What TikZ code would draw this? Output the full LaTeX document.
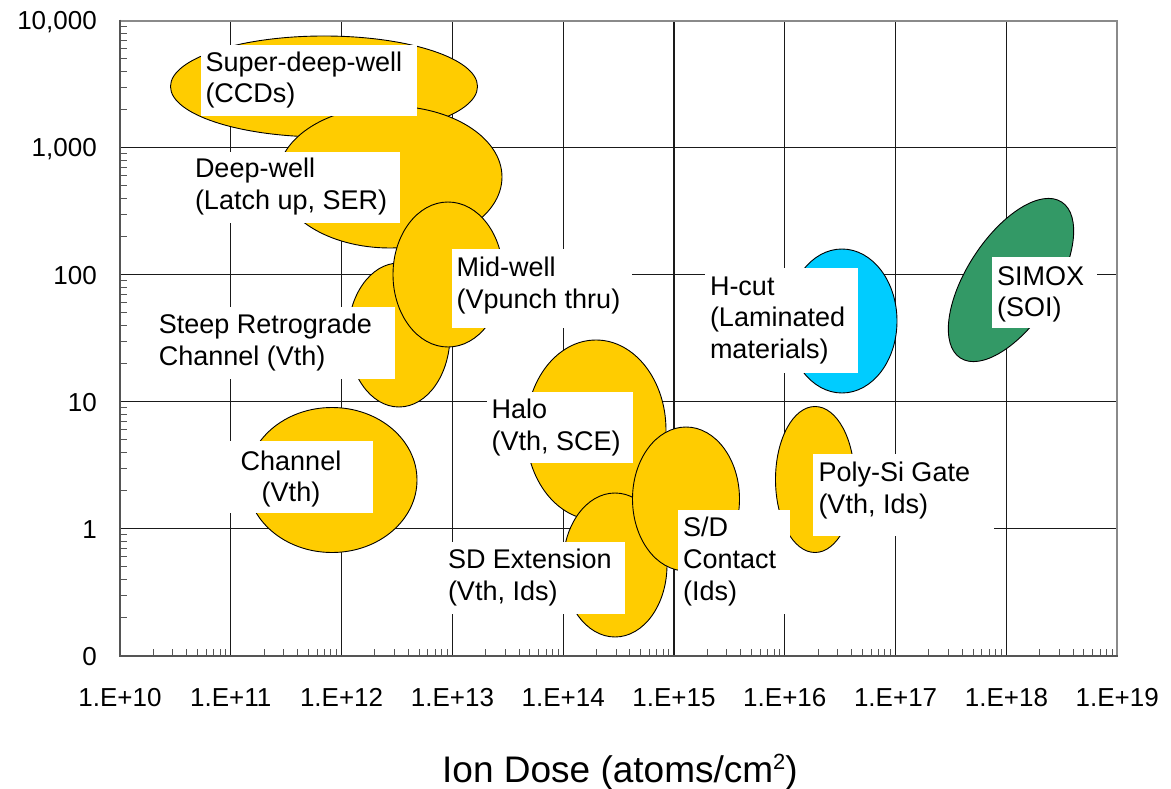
\documentclass[tikz,border=0pt]{standalone}
\usepackage{fontspec}
\setmainfont{Liberation Sans}
\definecolor{gold}{HTML}{FFCC00}
\definecolor{skyc}{HTML}{00CCFF}
\definecolor{simoxg}{HTML}{339966}
\definecolor{gridc}{HTML}{1A1A1A}
\definecolor{framec}{HTML}{8A8A8A}
\definecolor{axisc}{HTML}{555555}
\begin{document}
\begin{tikzpicture}[x=1pt,y=-1pt,
  gridline/.style={draw=gridc, line width=1.1pt},
  blob/.style={draw=black, line width=0.9pt},
  lblbox/.style={fill=white},
  lbl/.style={font=\fontsize{27}{31.6}\selectfont, inner sep=0pt, align=left, anchor=base west},
  ticklbl/.style={font=\fontsize{26}{30}\selectfont, inner sep=0pt},
  tickmark/.style={draw=axisc, line width=1pt}
  ]
\useasboundingbox (0,0) rectangle (1171,789);
\fill[white] (0,0) rectangle (1171,789);

% grid
\foreach \i in {1,2,3,4,6,7,8} \draw[gridline] ({120+110.8*\i},20.7) -- ({120+110.8*\i},655.7);
\draw[gridline] (674,20.7) -- (674,430);
\draw[gridline] (674,568) -- (674,655.7);
\foreach \j in {1,...,4} \draw[gridline] (120,{20.7+127*\j}) -- (1117.2,{20.7+127*\j});

% ellipses
\filldraw[blob, fill=gold] (324,86.5) ellipse [x radius=153.5, y radius=50.5];
\filldraw[blob, fill=gold] (390,177) ellipse [x radius=112, y radius=71];
\filldraw[blob, fill=gold] (399,335) ellipse [x radius=51, y radius=72];
\filldraw[blob, fill=gold] (448,274.5) ellipse [x radius=55, y radius=72.5];
\filldraw[blob, fill=gold] (332,480) ellipse [x radius=85, y radius=72.5];
\filldraw[blob, fill=gold] (596,430) ellipse [x radius=70, y radius=90];
\filldraw[blob, fill=gold] (615,565) ellipse [x radius=52, y radius=72];
\filldraw[blob, fill=gold] (686,499) ellipse [x radius=53.5, y radius=72];
\filldraw[blob, fill=skyc] (842,321) ellipse [x radius=55, y radius=72];
\filldraw[blob, fill=gold] (815,479.5) ellipse [x radius=39.5, y radius=73];
\filldraw[blob, fill=simoxg, rotate around={57:(1011,280)}] (1011,280) ellipse [x radius=93, y radius=44];

% label boxes
\fill[lblbox] (201,45) rectangle (416.7,115.7);
\fill[lblbox] (194,151.7) rectangle (400,222.7);
\fill[lblbox] (154,306.7) rectangle (395,379.3);
\fill[lblbox] (451.7,249) rectangle (632,328.3);
\fill[lblbox] (209,440.5) rectangle (372.7,513.3);
\fill[lblbox] (486.7,391.7) rectangle (632.7,463.3);
\fill[lblbox] (443,541.7) rectangle (625,614);
\fill[lblbox] (678,510) rectangle (790,614);
\fill[lblbox] (705,268.3) rectangle (857.7,373.3);
\fill[lblbox] (991.7,257.3) rectangle (1096.7,328.3);
\fill[lblbox] (813.3,454) rectangle (994,535.7);

% labels (anchor = baseline of the last line)
\node[lbl] (sdw) at (205.3,103) {Super-deep-well\\(CCDs)};
\node[lbl] (dw) at (194.8,209.5) {Deep-well\\(Latch up, SER)};
\node[lbl] (steep) at (158.6,365) {Steep Retrograde\\Channel (Vth)};
\node[lbl] (mid) at (456.5,308.5) {Mid-well\\(Vpunch thru)};
\node[lbl, align=center, anchor=base] (chan) at (291,501.7) {Channel\\(Vth)};
\node[lbl] (halo) at (491.5,450.5) {Halo\\(Vth, SCE)};
\node[lbl] (sdext) at (447.8,600) {SD Extension\\(Vth, Ids)};
\node[lbl] (sdc) at (683,600) {S/D\\Contact\\(Ids)};
\node[lbl] (hcut) at (709.8,358.3) {H-cut\\(Laminated\\materials)};
\node[lbl] (simox) at (997,316.7) {SIMOX\\(SOI)};
\node[lbl] (poly) at (818.3,513.3) {Poly-Si Gate\\(Vth, Ids)};

% minor ticks
\foreach \i in {0,...,8} \foreach \k in {2,...,9}
  \draw[tickmark] ({120+110.8*(\i+log10(\k))},655.7) -- ++(0,-7);
\foreach \j in {0,...,4} \foreach \k in {2,...,9}
  \draw[tickmark] (120,{20.7+127*(\j+1-log10(\k))}) -- ++(7,0);

% frame and axes
\draw[framec, line width=2.2pt] (119,20.7) -- (1117.2,20.7) -- (1117.2,656.7);
\draw[axisc, line width=2pt] (120,19.7) -- (120,655.7) -- (1118.2,655.7);

% y labels
\foreach \t [count=\n from 0] in {{10,000},{1,000},100,10,1,0}
  \node[ticklbl, anchor=base east] (ylab\n) at (97,{20.7+127*\n+9.3}) {\t};
% x labels
\foreach \n in {10,...,19}
  \node[ticklbl, anchor=base] (xlab\n) at ({120+110.8*(\n-10)},706) {1.E+\n};

\node[font=\fontsize{37}{40}\selectfont, anchor=base, inner sep=0pt] (title) at (620,782) {Ion Dose (atoms/cm\raisebox{13pt}{\fontsize{22}{22}\selectfont 2})};
\end{tikzpicture}
\end{document}
